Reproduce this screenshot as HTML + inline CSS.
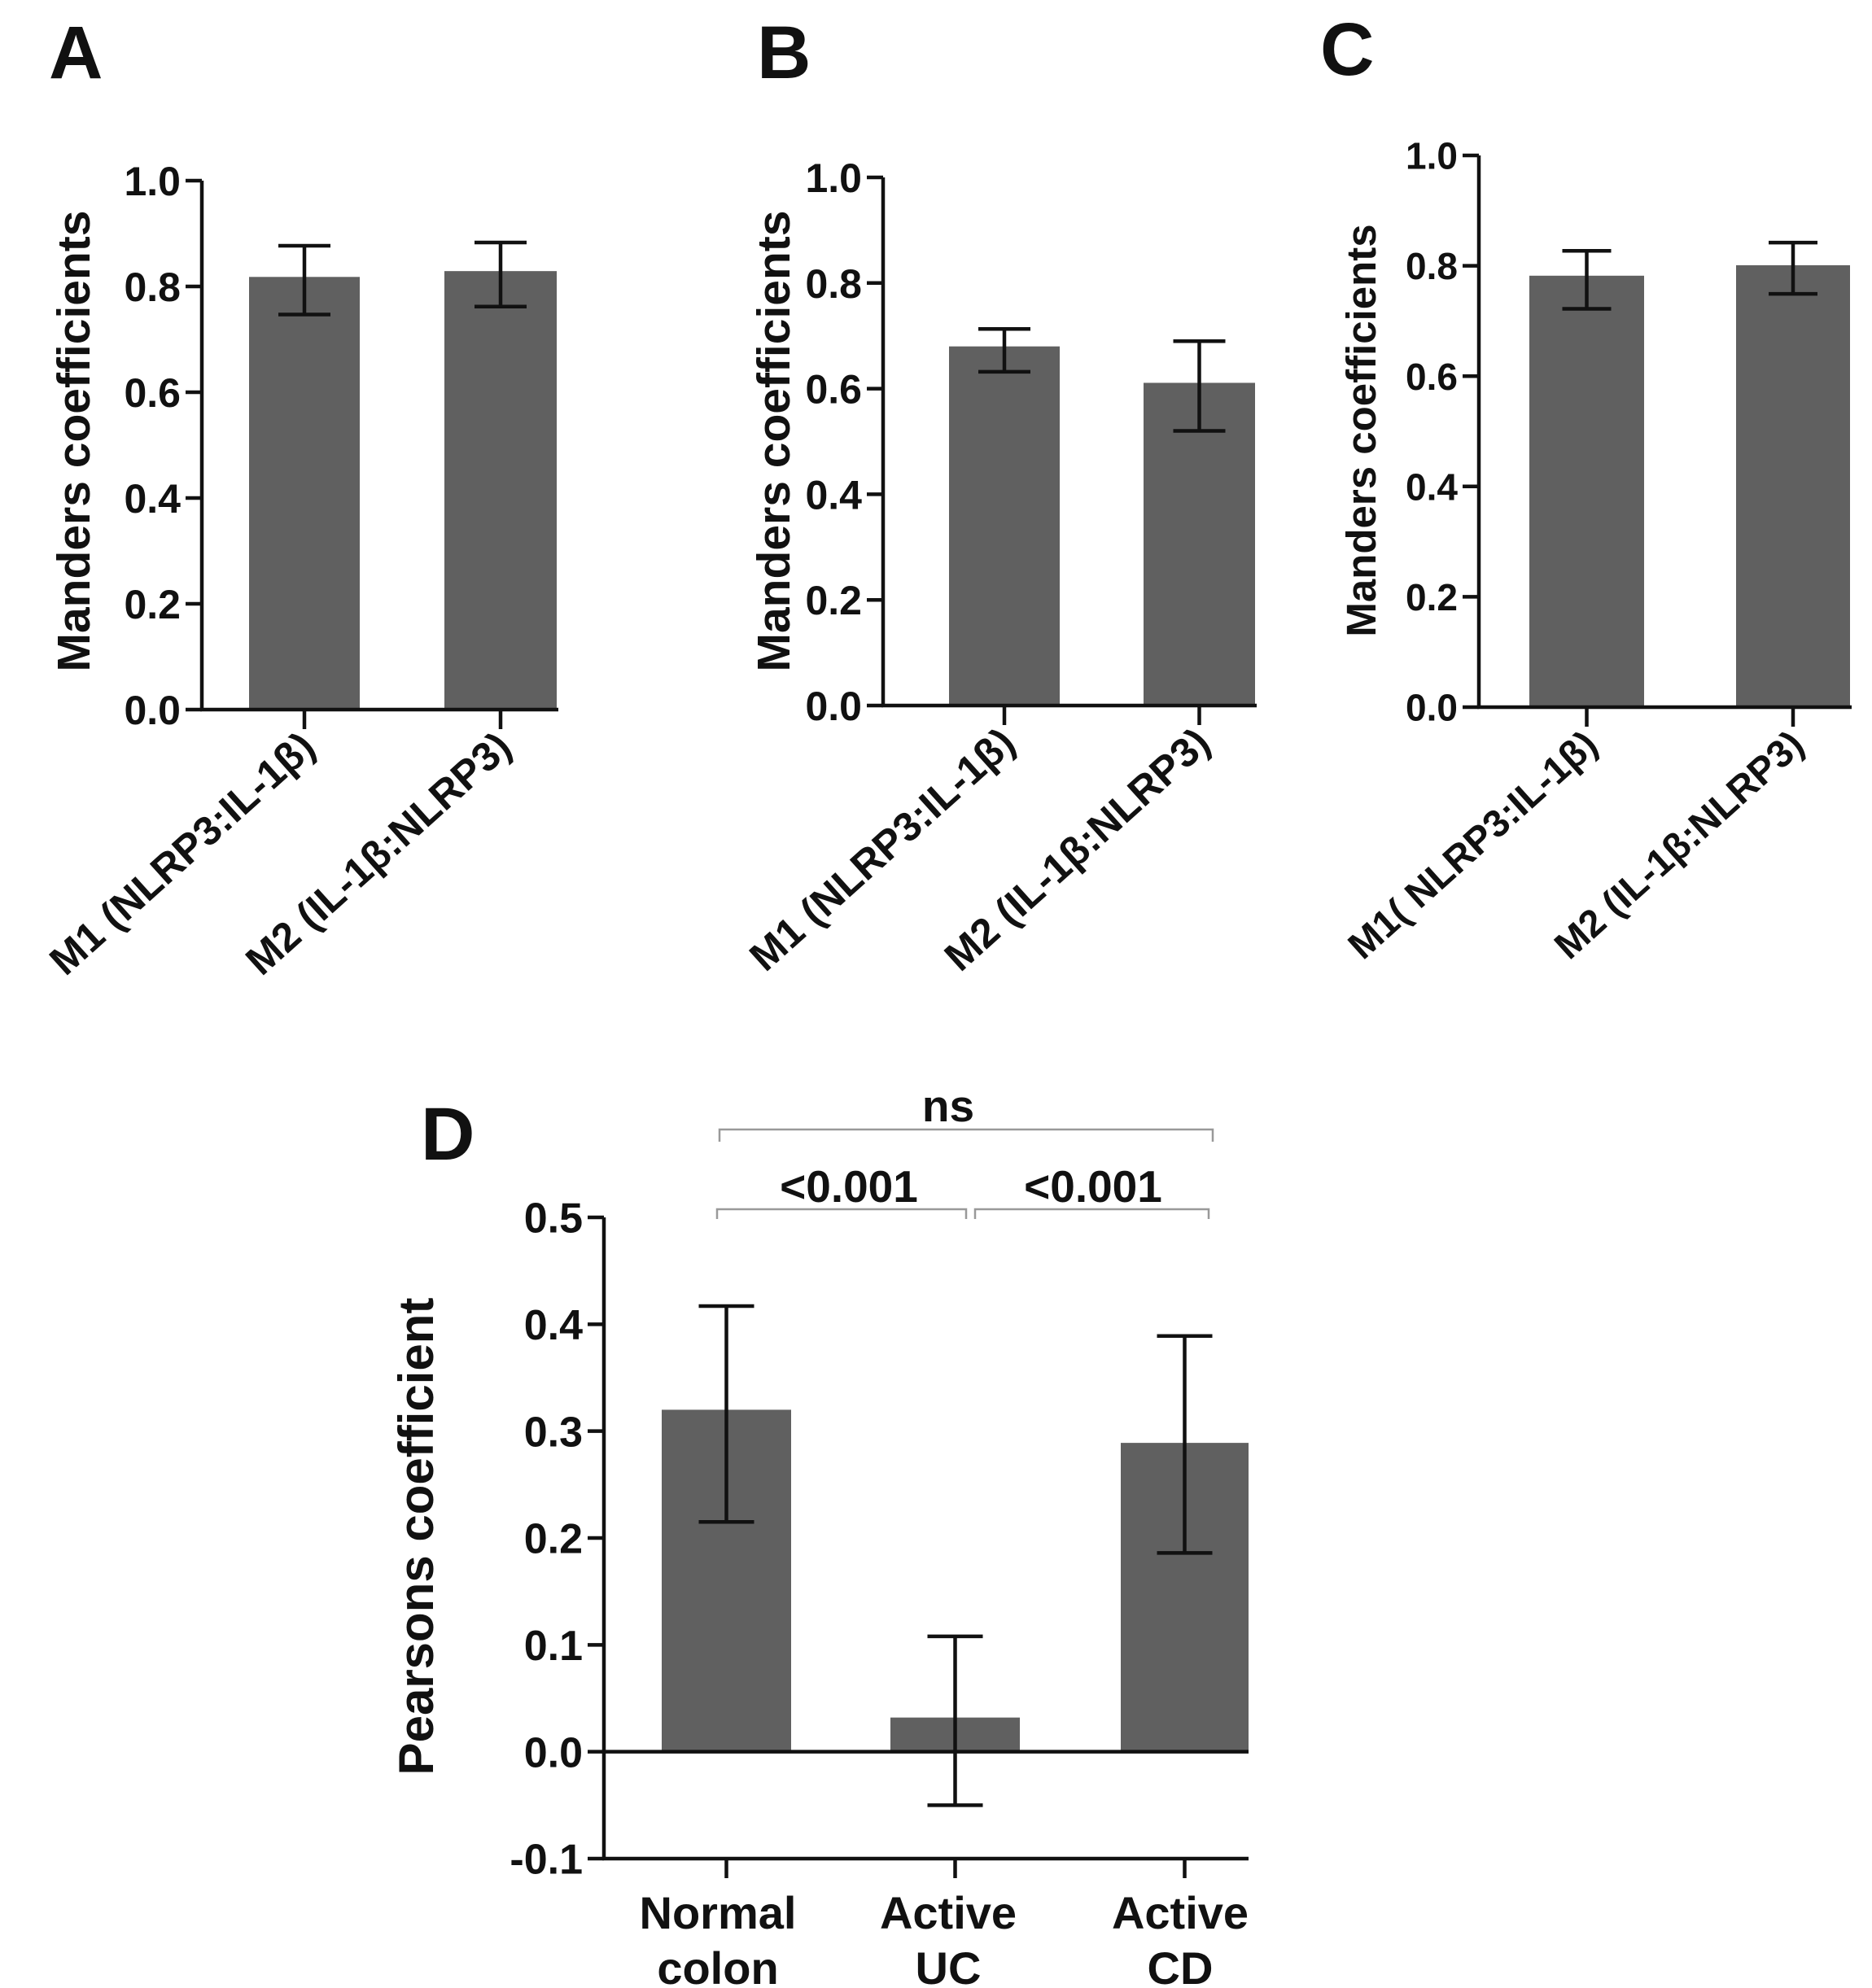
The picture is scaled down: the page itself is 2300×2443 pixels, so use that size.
<!DOCTYPE html>
<html><head><meta charset="utf-8"><style>
html,body{margin:0;padding:0;background:#fff}
svg{display:block;font-family:"Liberation Sans",Arial,sans-serif;font-weight:bold}
</style></head><body>
<svg id="fig" width="2300" height="2443" viewBox="0 0 2300 2443"></svg>
<script>
const catsABC = ["M1 (NLRP3:IL-1β)", "M2 (IL-1β:NLRP3)"];
const catsC = ["M1( NLRP3:IL-1β)", "M2 (IL-1β:NLRP3)"];
const valsA = [0.818, 0.829];
const errHiA = [0.877, 0.883];
const errLoA = [0.747, 0.762];
const valsB = [0.68, 0.611];
const errHiB = [0.713, 0.69];
const errLoB = [0.632, 0.52];
const valsC = [0.782, 0.801];
const errHiC = [0.827, 0.842];
const errLoC = [0.722, 0.749];
const ticksABC = [0, 0.2, 0.4, 0.6, 0.8, 1.0];
const tickLabelsABC = ["0.0", "0.2", "0.4", "0.6", "0.8", "1.0"];
const catsD = [["Normal","colon"],["Active","UC"],["Active","CD"]];
const valsD = [0.32, 0.032, 0.289];
const errHiD = [0.417, 0.108, 0.389];
const errLoD = [0.215, -0.05, 0.186];
const ticksD = [-0.1, 0, 0.1, 0.2, 0.3, 0.4, 0.5];
const tickLabelsD = ["-0.1", "0.0", "0.1", "0.2", "0.3", "0.4", "0.5"];
const bracketLabels = ["<0.001", "<0.001", "ns"];

const NS = "http://www.w3.org/2000/svg";
const svg = document.getElementById("fig");
function mk(tag, attrs, parent, txt){
  const e = document.createElementNS(NS, tag);
  for (const k in attrs) e.setAttribute(k, attrs[k]);
  if (txt !== undefined) e.textContent = txt;
  (parent || svg).appendChild(e);
  return e;
}
function line(g, x1, y1, x2, y2, w, c){
  return mk("line", {x1, y1, x2, y2, stroke: c || "#111", "stroke-width": w || 4.5}, g);
}

function panel(cfg){
  const g = mk("g", {});
  
  
  const y = v => cfg.y0 + (v - cfg.vmin) / (cfg.vmax - cfg.vmin) * (cfg.y1 - cfg.y0);
  const letter = mk("text", {x: cfg.letterX, y: cfg.letterY, "font-size": cfg.letterSize, fill: "#111"}, g, cfg.letter);
  
  
  const yax = line(g, cfg.axX, y(cfg.vmax), cfg.axX, y(cfg.vmin) + 2);
  
  
  cfg.ticks.forEach((t, i) => {
    line(g, cfg.axX - 20, y(t), cfg.axX, y(t));
    const tl = mk("text", {x: cfg.axX - 26, y: y(t) + cfg.tickSize * 0.36, "font-size": cfg.tickSize, "text-anchor": "end", fill: "#111"}, g, cfg.tickLabels[i]);
    
    
  });
  const yt = mk("text", {x: 0, y: 0, "font-size": cfg.titleSize, "text-anchor": "middle", fill: "#111",
    transform: `translate(${cfg.titleX},${cfg.titleY}) rotate(-90)`}, g, cfg.title);
  
  
  cfg.vals.forEach((v, i) => {
    const [bx0, bx1] = cfg.bars[i];
    const top = Math.min(y(v), y(0)), bot = Math.max(y(v), y(0));
    const r = mk("rect", {x: bx0, y: top, width: bx1 - bx0, height: bot - top, fill: "#606060"}, g);
    
    
    const cx = (bx0 + bx1) / 2;
    const eg = mk("g", {}, g);
    
    
    line(eg, cx, y(cfg.hi[i]), cx, y(cfg.lo[i]));
    line(eg, cx - cfg.cap, y(cfg.hi[i]), cx + cfg.cap, y(cfg.hi[i]));
    line(eg, cx - cfg.cap, y(cfg.lo[i]), cx + cfg.cap, y(cfg.lo[i]));
  });
  const xax = line(g, cfg.axX - 2, y(cfg.base), cfg.xEnd, y(cfg.base));
  
  
  if (cfg.zeroLine) {
    const zl = line(g, cfg.axX, y(0), cfg.xEnd, y(0));
    
    
  }
  cfg.vals.forEach((v, i) => {
    const cx = (cfg.bars[i][0] + cfg.bars[i][1]) / 2;
    line(g, cx, y(cfg.base), cx, y(cfg.base) + 24);
    if (cfg.rotated) {
      const t = mk("text", {x: 0, y: 0, "font-size": cfg.catSize, "text-anchor": "end", fill: "#111",
        transform: `translate(${cx + 16},${y(cfg.base) + 50}) rotate(-42)`}, g, cfg.cats[i]);
      
      
    } else {
      cfg.cats[i].forEach((s, j) => {
        const t = mk("text", {x: cfg.catX[i], y: cfg.catY + j * 68, "font-size": cfg.catSize, "text-anchor": "middle", fill: "#111"}, g, s);
        
        
      });
    }
  });
  return {g, y};
}

const common = {vmin: 0, vmax: 1, base: 0, ticks: ticksABC, tickLabels: tickLabelsABC, title: "Manders coefficients",
  rotated: true, cap: 32, letterSize: 92};
panel(Object.assign({}, common, {name: "panel-a", letter: "A", letterX: 60, letterY: 96, axX: 248, y0: 872, y1: 222,
  xEnd: 686, bars: [[306,442],[546,684]], vals: valsA, hi: errHiA, lo: errLoA, cats: catsABC,
  tickSize: 50, titleSize: 57, titleX: 110, titleY: 542, catSize: 50}));
panel(Object.assign({}, common, {name: "panel-b", letter: "B", letterX: 930, letterY: 96, axX: 1085, y0: 867, y1: 218,
  xEnd: 1544, bars: [[1166,1302],[1405,1542]], vals: valsB, hi: errHiB, lo: errLoB, cats: catsABC,
  tickSize: 50, titleSize: 57, titleX: 970, titleY: 542, catSize: 50}));
panel(Object.assign({}, common, {name: "panel-c", letter: "C", letterX: 1622, letterY: 92, axX: 1817, y0: 869, y1: 191,
  xEnd: 2275, bars: [[1879,2020],[2133,2273]], vals: valsC, hi: errHiC, lo: errLoC, cats: catsC,
  tickSize: 46, titleSize: 51, titleX: 1690, titleY: 529, catSize: 47, cap: 30}));
panel({name: "panel-d", letter: "D", letterX: 517, letterY: 1425, letterSize: 92, vmin: -0.1, vmax: 0.5, base: -0.1,
  axX: 742, y0: 2284, y1: 1496, xEnd: 1534, bars: [[813,972],[1094,1253],[1377,1534]],
  vals: valsD, hi: errHiD, lo: errLoD, ticks: ticksD, tickLabels: tickLabelsD, cap: 34,
  tickSize: 52, title: "Pearsons coefficient", titleSize: 60, titleX: 532, titleY: 1888,
  rotated: false, cats: catsD, catX: [882, 1165, 1450], catY: 2370, catSize: 56, zeroLine: true});

const bg = mk("g", {});


const brackets = [[881, 1187, 1486, 1498, 1043, 1477], [1198, 1485, 1486, 1498, 1343, 1477], [884, 1490, 1388, 1403, 1165, 1378]];
brackets.forEach((b, i) => {
  const p = mk("path", {d: `M${b[0]},${b[3]} V${b[2]} H${b[1]} V${b[3]}`, fill: "none", stroke: "#999", "stroke-width": 2.5}, bg);
  
  
  const t = mk("text", {x: b[4], y: b[5], "font-size": 55, "text-anchor": "middle", fill: "#111"}, bg, bracketLabels[i]);
  
  
});
</script>
</body></html>
